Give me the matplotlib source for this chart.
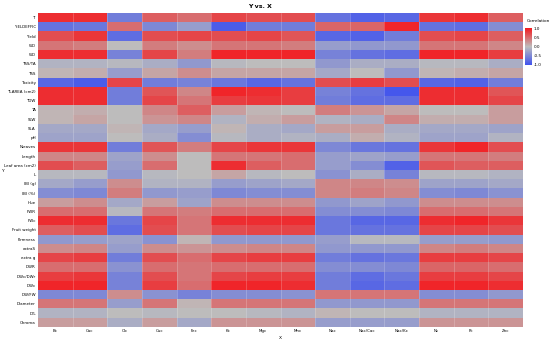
import numpy as np
import matplotlib.pyplot as plt
from matplotlib.colors import LinearSegmentedColormap

# X側（列）
x_labels = ['Bc', 'Cac', 'Clc', 'Cuc', 'Fec', 'Kc', 'Mgc', 'Mnc',
            'Nac', 'Nac/Cac', 'Nac/Kc', 'Nc', 'Pc', 'Znc']
# Y側（行）
y_labels = ['Ti', 'YIELDEFFIC', 'Yield', 'WD', 'WD', 'TSS/TA', 'TSS', 'Toxicity',
            'TLAREA (cm2)', 'TDW', 'TA', 'SLW', 'SLA', 'pH', 'Nleaves', 'Length',
            'Leaf area (cm2)', 'L', 'IBI (g)', 'IBI (%)', 'Hue', 'FWR', 'FWc',
            'Fruit weight', 'Firmness', 'extraS', 'extra g', 'DWR', 'DWc/DWr',
            'DWc', 'DW/FW', 'Diameter', 'D/L', 'Chroma']

# 相関係数
r_Ti = [0.9, 0.9, -0.6, 0.6, 0.5, 0.75, 0.7, 0.7, -0.7, -0.85, -0.8, 0.85, 0.9, 0.6]
r_yieldeffic = [-0.7, -0.65, 0.5, -0.5, -0.3, -0.9, -0.6, -0.6, 0.55, 0.55, 0.95, -0.7, -0.75, -0.45]
r_yield = [0.7, 0.85, -0.75, 0.7, 0.75, 0.7, 0.75, 0.65, -0.8, -0.85, -0.6, 0.7, 0.75, 0.6]
r_wd1 = [0.45, 0.4, 0.0, 0.4, 0.3, 0.45, 0.45, 0.4, -0.3, -0.35, -0.35, 0.45, 0.45, 0.35]
r_wd2 = [0.9, 0.9, -0.55, 0.75, 0.4, 0.95, 0.95, 0.95, -0.55, -0.7, -0.75, 0.95, 0.95, 0.8]
r_tssta = [-0.1, -0.1, -0.05, -0.15, -0.35, -0.05, 0.0, 0.0, -0.35, -0.15, -0.15, -0.05, -0.05, -0.15]
r_tss = [0.05, 0.1, -0.3, 0.15, 0.3, 0.15, 0.15, 0.15, -0.2, 0.0, -0.35, 0.05, 0.1, 0.15]
r_toxicity = [-0.8, -0.9, 0.75, -0.6, -0.55, -0.65, -0.8, -0.7, 0.7, 0.8, 0.7, -0.8, -0.85, -0.6]
r_tlarea = [0.9, 0.9, -0.6, 0.65, 0.35, 0.95, 0.9, 0.8, -0.55, -0.7, -0.95, 0.9, 0.9, 0.65]
r_tdw = [0.9, 0.9, -0.6, 0.75, 0.45, 0.8, 0.85, 0.8, -0.6, -0.75, -0.75, 0.9, 0.9, 0.75]
r_ta = [0.05, 0.1, 0.0, 0.35, 0.6, 0.2, 0.05, 0.0, 0.4, 0.25, 0.15, 0.0, 0.0, 0.2]
r_slw = [0.05, 0.15, 0.0, 0.25, 0.35, -0.1, 0.1, 0.2, -0.1, -0.15, 0.35, 0.1, 0.1, 0.2]
r_sla = [-0.2, -0.2, 0.05, -0.2, -0.3, 0.05, -0.15, -0.2, 0.2, 0.2, -0.15, -0.2, -0.2, -0.25]
r_ph = [-0.25, -0.25, 0.0, -0.15, -0.45, -0.05, -0.15, -0.1, -0.15, 0.1, -0.1, -0.25, -0.25, -0.1]
r_nleaves = [0.85, 0.85, -0.6, 0.65, 0.4, 0.75, 0.85, 0.85, -0.5, -0.65, -0.7, 0.85, 0.95, 0.7]
r_length = [0.35, 0.35, -0.25, 0.3, 0.0, 0.45, 0.45, 0.5, -0.3, -0.25, -0.3, 0.45, 0.45, 0.4]
r_leafarea = [0.7, 0.6, -0.3, 0.5, 0.0, 0.9, 0.6, 0.5, -0.3, -0.45, -0.85, 0.65, 0.6, 0.6]
r_L = [-0.05, -0.05, -0.35, -0.05, 0.0, 0.15, -0.05, 0.0, -0.4, -0.15, -0.55, -0.05, -0.05, -0.1]
r_ibi_g = [-0.2, -0.3, 0.3, -0.1, -0.1, -0.3, -0.25, -0.2, 0.35, 0.35, 0.3, -0.25, -0.25, -0.2]
r_ibi_p = [-0.45, -0.5, 0.4, -0.35, -0.3, -0.5, -0.45, -0.45, 0.35, 0.4, 0.35, -0.45, -0.5, -0.4]
r_hue = [0.2, 0.3, -0.2, 0.2, -0.25, 0.3, 0.3, 0.3, -0.35, -0.25, -0.35, 0.3, 0.3, 0.3]
r_fwr = [0.5, 0.5, -0.05, 0.45, 0.4, 0.5, 0.5, 0.5, -0.45, -0.45, -0.5, 0.5, 0.5, 0.45]
r_fwc = [0.9, 0.9, -0.65, 0.75, 0.45, 0.9, 0.9, 0.9, -0.65, -0.8, -0.8, 0.9, 0.95, 0.85]
r_fruitw = [0.6, 0.7, -0.75, 0.7, 0.45, 0.7, 0.75, 0.75, -0.65, -0.7, -0.7, 0.75, 0.75, 0.7]
r_firm = [-0.35, -0.3, -0.25, -0.4, 0.05, -0.35, -0.35, -0.35, -0.3, -0.05, -0.05, -0.3, -0.3, -0.35]
r_extras = [0.3, 0.35, -0.3, 0.3, 0.25, 0.3, 0.35, 0.35, -0.35, -0.35, -0.35, 0.35, 0.4, 0.35]
r_extrag = [0.75, 0.8, -0.6, 0.7, 0.5, 0.75, 0.8, 0.8, -0.6, -0.7, -0.65, 0.8, 0.8, 0.75]
r_dwr = [0.5, 0.5, -0.4, 0.5, 0.45, 0.5, 0.5, 0.5, -0.45, -0.45, -0.5, 0.55, 0.55, 0.5]
r_dwcdwr = [0.8, 0.85, -0.55, 0.7, 0.45, 0.75, 0.8, 0.8, -0.6, -0.75, -0.65, 0.8, 0.8, 0.75]
r_dwc = [0.95, 0.95, -0.55, 0.8, 0.5, 0.95, 0.95, 0.9, -0.6, -0.8, -0.75, 0.95, 0.95, 0.9]
r_dwfw = [-0.5, -0.5, 0.3, -0.4, -0.55, -0.45, -0.45, -0.4, 0.45, 0.45, 0.45, -0.45, -0.45, -0.35]
r_diam = [0.45, 0.45, -0.3, 0.45, 0.05, 0.45, 0.45, 0.45, -0.35, -0.35, -0.35, 0.45, 0.45, 0.45]
r_dl = [-0.1, -0.1, 0.0, -0.05, 0.0, 0.0, -0.05, -0.1, 0.05, 0.0, 0.0, -0.1, -0.1, -0.1]
r_chroma = [0.2, 0.2, -0.15, 0.2, -0.2, 0.25, 0.25, 0.25, -0.3, -0.3, -0.3, 0.25, 0.25, 0.25]

corr = np.array([r_Ti, r_yieldeffic, r_yield, r_wd1, r_wd2, r_tssta, r_tss, r_toxicity,
                 r_tlarea, r_tdw, r_ta, r_slw, r_sla, r_ph, r_nleaves, r_length,
                 r_leafarea, r_L, r_ibi_g, r_ibi_p, r_hue, r_fwr, r_fwc, r_fruitw,
                 r_firm, r_extras, r_extrag, r_dwr, r_dwcdwr, r_dwc, r_dwfw, r_diam,
                 r_dl, r_chroma])

# 青→灰→赤
cmap = LinearSegmentedColormap.from_list('bgr', ['#3F52EE', '#BDBDBD', '#F21E22'])

fig = plt.figure(figsize=(5.5, 3.42), dpi=100)
ax = fig.add_axes([0.069, 0.044, 0.882, 0.918])
mesh = ax.pcolormesh(corr, cmap=cmap, vmin=-1, vmax=1)
ax.set_xlim(0, len(x_labels))
ax.set_ylim(len(y_labels), 0)

# 列の区切り（うすい白線）
for i in range(1, len(x_labels)):
    ax.axvline(i, color='white', lw=0.4, alpha=0.35)

ax.set_xticks(np.arange(len(x_labels)) + 0.5)
ax.set_xticklabels(x_labels, fontsize=2.9)
ax.set_yticks(np.arange(len(y_labels)) + 0.5)
ax.set_yticklabels(y_labels, fontsize=2.9)
ax.tick_params(length=0, pad=1.5)
for s in ax.spines.values():
    s.set_visible(False)

ax.set_xlabel('X', fontsize=3.2)
ax.xaxis.set_label_coords(0.5, -0.028)
ax.set_ylabel('Y', fontsize=3.2, rotation=0)
ax.yaxis.set_label_coords(-0.072, 0.49)
fig.text(0.473, 0.98, 'Y vs. X', fontsize=4.5, fontweight='bold', ha='center', va='center')

# カラーバー
cax = fig.add_axes([0.955, 0.81, 0.012, 0.107])
cb = fig.colorbar(mesh, cax=cax, ticks=[1.0, 0.5, 0.0, -0.5, -1.0])
cb.ax.set_yticklabels(['1.0', '0.5', '0.0', '-0.5', '-1.0'], fontsize=3.0)
cb.ax.tick_params(length=0, pad=1.5)
cb.outline.set_visible(False)
fig.text(0.957, 0.94, 'Correlation', fontsize=3.1, ha='left', va='center')

fig.savefig('out.png', dpi=100)
